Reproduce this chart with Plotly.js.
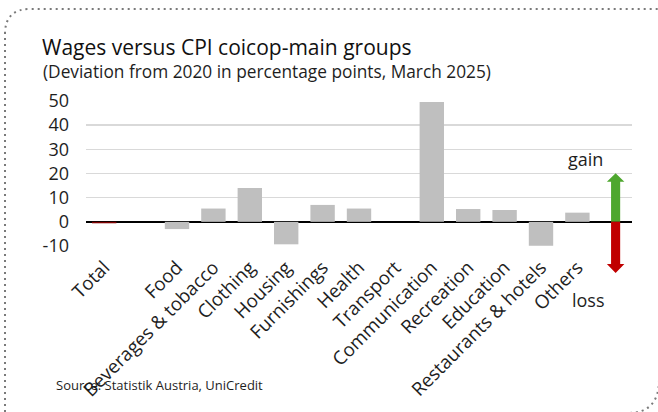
<!DOCTYPE html>
<html>
<head>
<meta charset="utf-8">
<script src="https://cdn.plot.ly/plotly-3.0.1.min.js"></script>
<style>
html,body{margin:0;padding:0;background:#fff;}
#chart{width:658px;height:412px;}
</style>
</head>
<body>
<div id="chart"></div>
<script>
// ---- data ----
var categories = ["Total", "", "Food", "Beverages & tobacco", "Clothing", "Housing", "Furnishings",
  "Health", "Transport", "Communication", "Recreation", "Education", "Restaurants & hotels", "Others", " "];
var values = [-0.6, null, -3.0, 5.5, 14.0, -9.3, 7.0, 5.5, 0.0, 49.6, 5.3, 4.9, -9.9, 3.8, null];
var yTickVals = [-10, 0, 10, 20, 30, 40, 50];
var yTickText = ["-10", "0", "10", "20", "30", "40", "50"];
var gainArrow = {base: 0, headBase: 16.6, tip: 20.1};
var lossArrow = {base: 0, headBase: -17.4, tip: -21.2};
var arrowSlot = 14;

// ---- layout constants ----
var W = 658, H = 412;
var M = {l: 86, r: 26, t: 101, b: 166};
var yMin = -10, yMax = 50;
var pw = W - M.l - M.r, ph = H - M.t - M.b;
function px2x(px) { return (px - M.l) / pw; }
function px2y(py) { return 1 - (py - M.t) / ph; }
function v2y(v) { return (v - yMin) / (yMax - yMin); }

var xIdx = categories.map(function (c, i) { return i; });
var colors = values.map(function (v, i) { return i === 0 ? "#7f0000" : "#bfbfbf"; });

var font = "'Open Sans', 'Noto Sans', sans-serif";
var txt = "#1e1e1e";

var trace = {
  type: "bar", x: xIdx, y: values, width: 0.67,
  marker: {color: colors, line: {width: 0}},
  hoverinfo: "skip"
};

function arrowPath(a, halfShaft, halfHead) {
  var x = arrowSlot + 0.05;
  return "M" + (x - halfShaft) + "," + v2y(a.base) +
    " L" + (x - halfShaft) + "," + v2y(a.headBase) +
    " L" + (x - halfHead) + "," + v2y(a.headBase) +
    " L" + x + "," + v2y(a.tip) +
    " L" + (x + halfHead) + "," + v2y(a.headBase) +
    " L" + (x + halfShaft) + "," + v2y(a.headBase) +
    " L" + (x + halfShaft) + "," + v2y(a.base) + " Z";
}

var borderTL = "M" + px2x(5) + "," + px2y(430) + " L" + px2x(5) + "," + px2y(34) +
  " Q" + px2x(5) + "," + px2y(9) + " " + px2x(30) + "," + px2y(9) +
  " L" + px2x(670) + "," + px2y(9);
var borderBR = "M" + px2x(659) + "," + px2y(380) +
  " Q" + px2x(659) + "," + px2y(413) + " " + px2x(628) + "," + px2y(413);

var layout = {
  width: W, height: H,
  margin: M,
  paper_bgcolor: "#fff", plot_bgcolor: "#fff",
  font: {family: font, color: txt, size: 17},
  showlegend: false,
  xaxis: {
    type: "linear", range: [-0.5, categories.length - 0.5],
    tickvals: xIdx, ticktext: categories, tickangle: -45,
    showgrid: false, zeroline: false, showline: false, ticks: "",
    ticklabelstandoff: 6,
    tickfont: {size: 18.7, family: font, color: txt},
    fixedrange: true
  },
  yaxis: {
    range: [yMin, yMax], tickvals: yTickVals, ticktext: yTickText,
    showgrid: true, gridcolor: "#d9d9d9", gridwidth: 1.5,
    zeroline: true, zerolinecolor: "#000", zerolinewidth: 1.5,
    showline: false, ticks: "", ticklabelstandoff: 16,
    tickfont: {size: 18, family: font, color: txt},
    fixedrange: true
  },
  title: {
    text: "Wages versus CPI coicop-main groups",
    x: 42 / W, xanchor: "left", xref: "container",
    y: 1 - 47.5 / H, yanchor: "middle", yref: "container",
    font: {size: 21, family: font, color: "#111"}
  },
  annotations: [
    {text: "(Deviation from 2020 in percentage points, March 2025)", xref: "paper", yref: "paper",
      x: px2x(41), y: px2y(71.5), xanchor: "left", yanchor: "middle", showarrow: false,
      font: {size: 17.3, family: font, color: txt}},
    {text: "Source: Statistik Austria, UniCredit", xref: "paper", yref: "paper",
      x: px2x(54), y: px2y(384.5), xanchor: "left", yanchor: "middle", showarrow: false,
      font: {size: 13, family: font, color: txt}},
    {text: "gain", xref: "paper", yref: "paper", x: px2x(585), y: px2y(158.5),
      xanchor: "center", yanchor: "middle", showarrow: false, font: {size: 18, family: font, color: txt}},
    {text: "loss", xref: "paper", yref: "paper", x: px2x(588), y: px2y(299.5),
      xanchor: "center", yanchor: "middle", showarrow: false, font: {size: 18, family: font, color: txt}}
  ],
  shapes: [
    {type: "path", xref: "x", yref: "paper", path: arrowPath(gainArrow, 0.125, 0.24),
      fillcolor: "#4ea72e", line: {width: 0}},
    {type: "path", xref: "x", yref: "paper", path: arrowPath(lossArrow, 0.125, 0.24),
      fillcolor: "#c00000", line: {width: 0}},
    {type: "path", xref: "paper", yref: "paper", path: borderTL,
      line: {color: "#7a7a7a", width: 2, dash: "2px,4px"}},
    {type: "path", xref: "paper", yref: "paper", path: borderBR,
      line: {color: "#7a7a7a", width: 2, dash: "2px,4px"}}
  ]
};

Plotly.newPlot("chart", [trace], layout, {displayModeBar: false, staticPlot: true});
</script>
</body>
</html>
